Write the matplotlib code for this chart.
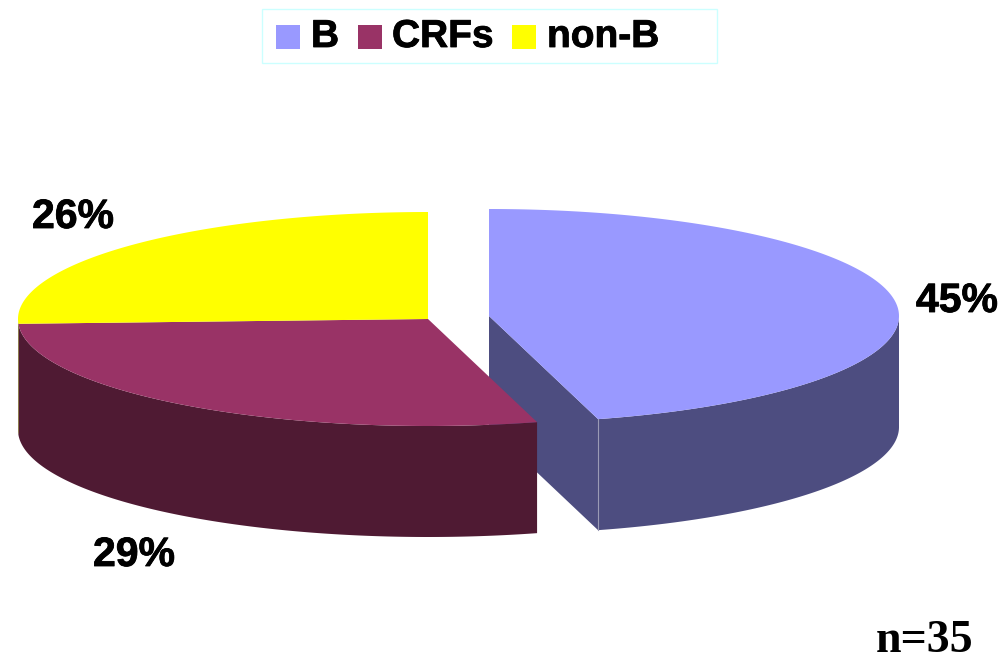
import numpy as np
import matplotlib
matplotlib.use('Agg')
import matplotlib.pyplot as plt
import matplotlib.patheffects as pe
from matplotlib.patches import Polygon, Rectangle

categories = ['B', 'CRFs', 'non-B']
counts = [16, 10, 9]
pct_labels = ['45%', '29%', '26%']
colors = ['#9999ff', '#993366', '#ffff00']
side_colors = ['#4d4d80', '#4f1a33', '#808000']

rx, ry = 410, 107
depth = 111
centers = [(489, 316), (428, 319), (428, 319)]

fig = plt.figure(figsize=(10.03, 6.62), dpi=100)
ax = fig.add_axes([0, 0, 1, 1])
ax.set_xlim(0, 1003)
ax.set_ylim(662, 0)
ax.axis('off')


# angle is clockwise from 12 o'clock, as in the original pie
def rim(cx, cy, a0, a1):
    t = np.radians(np.linspace(a0, a1, 200))
    return np.column_stack([cx + rx * np.sin(t), cy - ry * np.cos(t)])


edges = np.cumsum([0] + counts) / sum(counts) * 360

# B is drawn first so the CRFs wall overlaps its cut face
for i in range(3):
    cx, cy = centers[i]
    a0, a1 = edges[i], edges[i + 1]
    # outer wall, only the front half of the ellipse shows
    v0, v1 = max(a0, 90), min(a1, 270)
    if v0 < v1:
        r = rim(cx, cy, v0, v1)
        low = r[::-1] + [0, depth]
        ax.add_patch(Polygon(np.vstack([r, low]), fc=side_colors[i], ec='none', zorder=2))
    # cut face of the exploded slice
    if i == 0:
        p = rim(cx, cy, a1, a1)[0]
        face = [(cx, cy), p, p + [0, depth], (cx, cy + depth)]
        ax.add_patch(Polygon(face, fc=side_colors[i], ec='none', zorder=2))
        ax.plot([p[0], p[0]], [p[1], p[1] + depth], color='#9a9ab5', lw=0.8, zorder=2.5)
    top = np.vstack([[cx, cy], rim(cx, cy, a0, a1)])
    ax.add_patch(Polygon(top, fc=colors[i], ec='none', zorder=3))

heavy = [pe.withStroke(linewidth=0.6, foreground='black')]

label_pos = [(957, 312), (134, 566), (73, 228)]
for txt, (x, y) in zip(pct_labels, label_pos):
    ax.text(x, y, txt, fontsize=29.5, fontweight='bold', family='Liberation Sans',
            ha='center', va='baseline', color='black', path_effects=heavy)

# legend box
ax.add_patch(Rectangle((262, 9), 455, 54, fc='white', ec='#ccffff', lw=1, zorder=1))
swatch_x = [276, 358, 512]
text_x = [311, 392, 547]
for i in range(3):
    ax.add_patch(Rectangle((swatch_x[i], 25), 24, 24, fc=colors[i], ec='none', zorder=2))
    ax.text(text_x[i], 47, categories[i], fontsize=28, fontweight='bold',
            family='Liberation Sans', ha='left', va='baseline', color='black',
            path_effects=heavy)

ax.text(925, 652, 'n=35', fontsize=33, fontweight='bold', family='Liberation Serif',
        ha='center', va='baseline', color='black')

fig.savefig('out.png', dpi=100, facecolor='white')
